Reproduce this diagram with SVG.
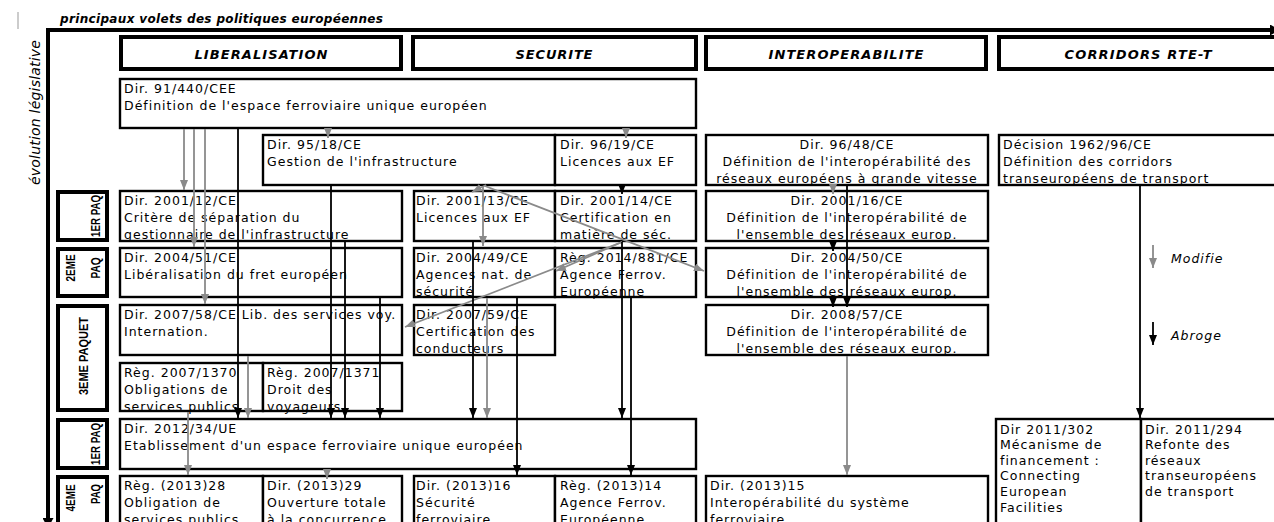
<svg xmlns="http://www.w3.org/2000/svg" width="1274" height="522" viewBox="0 0 1274 522">
<style>
.nb{fill:#fff;stroke:#000;stroke-width:2.4}
.hb{fill:#fff;stroke:#000;stroke-width:4}
.t{font-family:"DejaVu Sans",sans-serif;font-size:12.5px;letter-spacing:1px;fill:#000}
.tc{text-anchor:middle}
.h{font-family:"DejaVu Sans",sans-serif;font-size:13px;font-weight:bold;font-style:italic;text-anchor:middle}
.s{font-family:"Liberation Sans",Arial,sans-serif;font-size:13px;font-weight:bold;text-anchor:middle}
.it{font-family:"DejaVu Sans",sans-serif;font-size:12.5px;font-style:italic;letter-spacing:1px}
.g{stroke:#8a8a8a;stroke-width:1.8;fill:none;marker-end:url(#ag)}
.k{stroke:#000;stroke-width:1.8;fill:none;marker-end:url(#ak)}
.ax{stroke:#000;stroke-width:4;fill:none;marker-end:url(#aa)}
</style>
<defs>
<marker id="ag" markerUnits="userSpaceOnUse" markerWidth="10" markerHeight="8" refX="10" refY="4" orient="auto" viewBox="0 0 10 8"><path d="M0,0L10,4L0,8z" fill="#8a8a8a"/></marker>
<marker id="ak" markerUnits="userSpaceOnUse" markerWidth="10" markerHeight="8" refX="10" refY="4" orient="auto" viewBox="0 0 10 8"><path d="M0,0L10,4L0,8z" fill="#000"/></marker>
<marker id="aa" markerUnits="userSpaceOnUse" markerWidth="10" markerHeight="11" refX="10" refY="5.5" orient="auto" viewBox="0 0 10 11"><path d="M0,0L10,5.5L0,11z" fill="#000"/></marker>
</defs>
<rect width="1274" height="522" fill="#fff"/>
<rect x="17" y="12" width="2" height="17" fill="#cccccc"/>
<text x="60" y="23" textLength="323" style="font-family:'DejaVu Sans',sans-serif;font-size:12px;font-weight:bold;font-style:italic">principaux volets des politiques européennes</text>
<text transform="translate(40,112.5) rotate(-90)" text-anchor="middle" textLength="145" style="font-family:'DejaVu Sans',sans-serif;font-size:14px;font-style:italic">évolution législative</text>
<g id="axes">
<path class="ax" d="M46,30H1280"/>
<path class="ax" d="M48,28V528"/>
</g>
<g id="headers">
<g id="h-lib"><rect class="hb" x="121" y="37" width="280" height="32"/><text class="h" x="261" y="59" textLength="133">LIBERALISATION</text></g>
<g id="h-sec"><rect class="hb" x="413" y="37" width="283" height="32"/><text class="h" x="554" y="59" textLength="77">SECURITE</text></g>
<g id="h-int"><rect class="hb" x="706" y="37" width="280" height="32"/><text class="h" x="846" y="59" textLength="155">INTEROPERABILITE</text></g>
<g id="h-cor"><rect class="hb" x="999" y="37" width="290" height="32"/><text class="h" x="1138" y="59" textLength="147">CORRIDORS RTE-T</text></g>
</g>
<g id="packages">
<g id="p1"><rect class="hb" x="58" y="192" width="49" height="48"/><text class="s" transform="translate(100,216) rotate(-90)" textLength="42" lengthAdjust="spacingAndGlyphs">1ER PAQ</text></g>
<g id="p2"><rect class="hb" x="58" y="249" width="49" height="47"/><text class="s" transform="translate(75,268) rotate(-90)" textLength="27" lengthAdjust="spacingAndGlyphs">2EME</text><text class="s" transform="translate(100,268) rotate(-90)" textLength="21" lengthAdjust="spacingAndGlyphs">PAQ</text></g>
<g id="p3"><rect class="hb" x="58" y="306" width="49" height="104"/><text class="s" transform="translate(88,356) rotate(-90)" textLength="78" lengthAdjust="spacingAndGlyphs">3EME PAQUET</text></g>
<g id="p4"><rect class="hb" x="58" y="420" width="49" height="48"/><text class="s" transform="translate(100,444) rotate(-90)" textLength="42" lengthAdjust="spacingAndGlyphs">1ER PAQ</text></g>
<g id="p5"><rect class="hb" x="58" y="477" width="49" height="60"/><text class="s" transform="translate(75,498) rotate(-90)" textLength="27" lengthAdjust="spacingAndGlyphs">4EME</text><text class="s" transform="translate(100,494) rotate(-90)" textLength="20" lengthAdjust="spacingAndGlyphs">PAQ</text></g>
</g>
<g id="nodes">
<g id="n91440"><rect class="nb" x="120" y="79" width="576" height="49"/><text class="t" x="124" y="92.5">Dir. 91/440/CEE<tspan x="124" dy="17">Définition de l'espace ferroviaire unique européen</tspan></text></g>
<g id="n9518"><rect class="nb" x="263" y="135" width="292" height="50"/><text class="t" x="267" y="148.5">Dir. 95/18/CE<tspan x="267" dy="17">Gestion de l'infrastructure</tspan></text></g>
<g id="n9619"><rect class="nb" x="555" y="135" width="141" height="50"/><text class="t" x="560" y="148.5">Dir. 96/19/CE<tspan x="560" dy="17">Licences aux EF</tspan></text></g>
<g id="n9648"><rect class="nb" x="706" y="135" width="282" height="50"/><text class="t tc" x="847" y="148.5">Dir. 96/48/CE<tspan x="847" dy="17">Définition de l'interopérabilité des</tspan><tspan x="847" dy="17">réseaux européens à grande vitesse</tspan></text></g>
<g id="n196296"><rect class="nb" x="999" y="135" width="290" height="50"/><text class="t" x="1003" y="148.5">Décision 1962/96/CE<tspan x="1003" dy="17">Définition des corridors</tspan><tspan x="1003" dy="17">transeuropéens de transport</tspan></text></g>
<g id="n200112"><rect class="nb" x="120" y="191" width="282" height="50"/><text class="t" x="124" y="204.5">Dir. 2001/12/CE<tspan x="124" dy="17">Critère de séparation du</tspan><tspan x="124" dy="17">gestionnaire de l'infrastructure</tspan></text></g>
<g id="n200113"><rect class="nb" x="414" y="191" width="141" height="50"/><text class="t" x="416" y="204.5">Dir. 2001/13/CE<tspan x="416" dy="17">Licences aux EF</tspan></text></g>
<g id="n200114"><rect class="nb" x="555" y="191" width="141" height="50"/><text class="t" x="560" y="204.5">Dir. 2001/14/CE<tspan x="560" dy="17">Certification en</tspan><tspan x="560" dy="17">matière de séc.</tspan></text></g>
<g id="n200116"><rect class="nb" x="706" y="191" width="282" height="50"/><text class="t tc" x="847" y="204.5">Dir. 2001/16/CE<tspan x="847" dy="17">Définition de l'interopérabilité de</tspan><tspan x="847" dy="17">l'ensemble des réseaux europ.</tspan></text></g>
<g id="n200451"><rect class="nb" x="120" y="248" width="282" height="49"/><text class="t" x="124" y="261.5">Dir. 2004/51/CE<tspan x="124" dy="17">Libéralisation du fret européen</tspan></text></g>
<g id="n200449"><rect class="nb" x="414" y="248" width="141" height="49"/><text class="t" x="416" y="261.5">Dir. 2004/49/CE<tspan x="416" dy="17">Agences nat. de</tspan><tspan x="416" dy="17">sécurité</tspan></text></g>
<g id="n2014881"><rect class="nb" x="555" y="248" width="141" height="49"/><text class="t" x="560" y="261.5">Règ. 2014/881/CE<tspan x="560" dy="17">Agence Ferrov.</tspan><tspan x="560" dy="17">Européenne</tspan></text></g>
<g id="n200450"><rect class="nb" x="706" y="248" width="282" height="49"/><text class="t tc" x="847" y="261.5">Dir. 2004/50/CE<tspan x="847" dy="17">Définition de l'interopérabilité de</tspan><tspan x="847" dy="17">l'ensemble des réseaux europ.</tspan></text></g>
<g id="n200758"><rect class="nb" x="120" y="305" width="282" height="50"/><text class="t" x="124" y="318.5">Dir. 2007/58/CE Lib. des services voy.<tspan x="124" dy="17">Internation.</tspan></text></g>
<g id="n200759"><rect class="nb" x="414" y="305" width="141" height="50"/><text class="t" x="416" y="318.5">Dir. 2007/59/CE<tspan x="416" dy="17">Certification des</tspan><tspan x="416" dy="17">conducteurs</tspan></text></g>
<g id="n200857"><rect class="nb" x="706" y="305" width="282" height="50"/><text class="t tc" x="847" y="318.5">Dir. 2008/57/CE<tspan x="847" dy="17">Définition de l'interopérabilité de</tspan><tspan x="847" dy="17">l'ensemble des réseaux europ.</tspan></text></g>
<g id="n20071370"><rect class="nb" x="120" y="363" width="143" height="48"/><text class="t" x="124" y="376.5">Règ. 2007/1370<tspan x="124" dy="17">Obligations de</tspan><tspan x="124" dy="17">services publics</tspan></text></g>
<g id="n20071371"><rect class="nb" x="263" y="363" width="139" height="48"/><text class="t" x="267" y="376.5">Règ. 2007/1371<tspan x="267" dy="17">Droit des</tspan><tspan x="267" dy="17">voyageurs</tspan></text></g>
<g id="n201234"><rect class="nb" x="120" y="419" width="576" height="50"/><text class="t" x="124" y="432.5">Dir. 2012/34/UE<tspan x="124" dy="17">Etablissement d'un espace ferroviaire unique européen</tspan></text></g>
<g id="n2011302"><rect class="nb" x="996" y="419" width="145" height="120"/><text class="t" x="1000" y="433.5">Dir 2011/302<tspan x="1000" dy="15.6">Mécanisme de</tspan><tspan x="1000" dy="15.6">financement :</tspan><tspan x="1000" dy="15.6">Connecting</tspan><tspan x="1000" dy="15.6">European</tspan><tspan x="1000" dy="15.6">Facilities</tspan></text></g>
<g id="n2011294"><rect class="nb" x="1141" y="419" width="150" height="120"/><text class="t" x="1145" y="433.5">Dir. 2011/294<tspan x="1145" dy="15.6">Refonte des</tspan><tspan x="1145" dy="15.6">réseaux</tspan><tspan x="1145" dy="15.6">transeuropéens</tspan><tspan x="1145" dy="15.6">de transport</tspan></text></g>
<g id="n201328"><rect class="nb" x="120" y="476" width="143" height="60"/><text class="t" x="124" y="489.5">Règ. (2013)28<tspan x="124" dy="17">Obligation de</tspan><tspan x="124" dy="17">services publics</tspan></text></g>
<g id="n201329"><rect class="nb" x="263" y="476" width="139" height="60"/><text class="t" x="267" y="489.5">Dir. (2013)29<tspan x="267" dy="17">Ouverture totale</tspan><tspan x="267" dy="17">à la concurrence</tspan></text></g>
<g id="n201316"><rect class="nb" x="414" y="476" width="141" height="60"/><text class="t" x="416" y="489.5">Dir. (2013)16<tspan x="416" dy="17">Sécurité</tspan><tspan x="416" dy="17">ferroviaire</tspan></text></g>
<g id="n201314"><rect class="nb" x="555" y="476" width="141" height="60"/><text class="t" x="560" y="489.5">Règ. (2013)14<tspan x="560" dy="17">Agence Ferrov.</tspan><tspan x="560" dy="17">Européenne</tspan></text></g>
<g id="n201315"><rect class="nb" x="706" y="476" width="282" height="60"/><text class="t" x="710" y="489.5">Dir. (2013)15<tspan x="710" dy="17">Interopérabilité du système</tspan><tspan x="710" dy="17">ferroviaire</tspan></text></g>
</g>
<g id="connectors">
<path class="g" d="M184,129V190"/>
<path class="g" d="M194,129V247"/>
<path class="g" d="M205,129V304"/>
<path class="g" d="M328,129V138"/>
<path class="g" d="M626,129V138"/>
<path class="g" d="M486,185L472,192"/>
<path class="g" d="M483,186V246"/>
<path class="g" d="M485,186L704,271"/>
<path class="g" d="M622,242L556,271"/>
<path class="g" d="M622,242L405,327"/>
<path class="g" d="M487,298V418"/>
<path class="g" d="M248,356V418"/>
<path class="g" d="M188,412V475"/>
<path class="g" d="M327,470V479"/>
<path class="g" d="M833,186V194"/>
<path class="g" d="M847,356V475"/>
<path class="k" d="M238,129V418"/>
<path class="k" d="M331,186V418"/>
<path class="k" d="M345,242V418"/>
<path class="k" d="M380,298V418"/>
<path class="k" d="M473,242V418"/>
<path class="k" d="M517,298V475"/>
<path class="k" d="M622,242V418"/>
<path class="k" d="M631,298V475"/>
<path class="k" d="M622,186V194"/>
<path class="k" d="M833,242V251"/>
<path class="k" d="M833,298V307"/>
<path class="k" d="M847,186V307"/>
<path class="k" d="M1140,186V418"/>
</g>
<g id="legend">
<path class="g" d="M1153,245V268"/>
<text class="it" x="1171" y="263">Modifie</text>
<path class="k" d="M1153,322V345"/>
<text class="it" x="1171" y="340">Abroge</text>
</g>
</svg>
